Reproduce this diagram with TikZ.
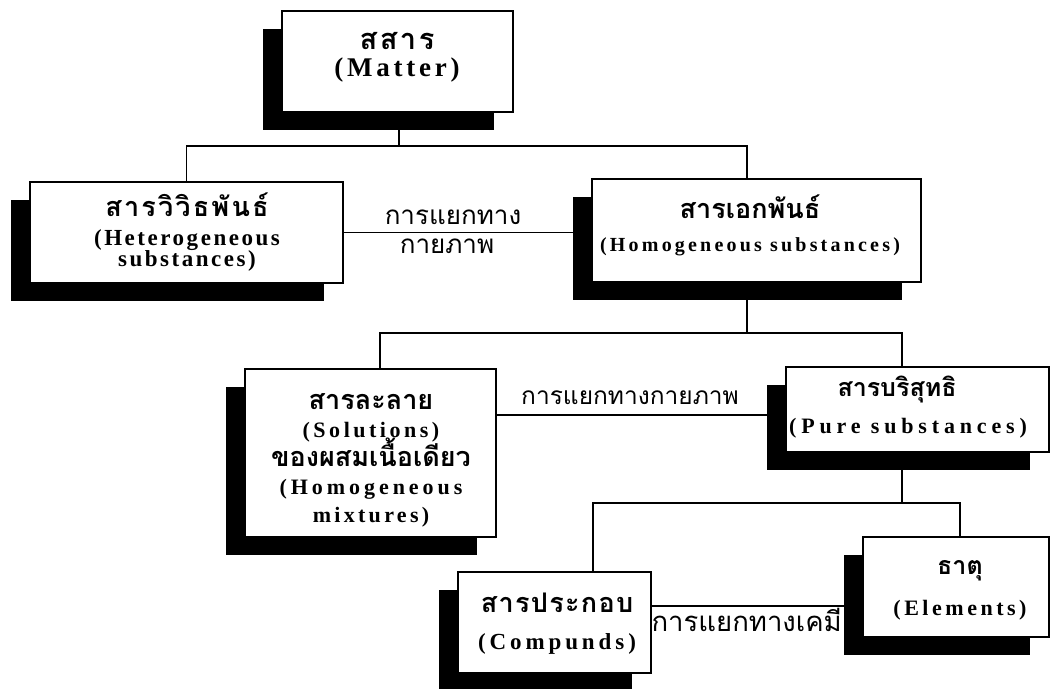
\documentclass[tikz,border=0pt]{standalone}
\usepackage{fontspec}
\setmainfont{Liberation Serif}
\newfontfamily\thaifnt[Script=Thai]{Loma}
\newfontfamily\enfnt{Liberation Serif}
\usetikzlibrary{shadows,calc}
\newcommand\myEN[3][24]{{\enfnt\bfseries\fontsize{#2}{#2}\selectfont\addfontfeatures{LetterSpace=#1}#3}}
\newcommand\myTH[2]{{\thaifnt\bfseries\fontsize{#1}{#1}\selectfont #2}}
\tikzset{
  box/.style={draw, line width=1.3pt, fill=white, inner sep=0pt,
    drop shadow={shadow xshift=-19pt, shadow yshift=-18pt, fill=black, opacity=1}},
  txt/.style={align=center, inner sep=0pt},
  conn/.style={line width=1.3pt},
  lbl/.style={inner sep=0pt, align=center}
}
\begin{document}
\begin{tikzpicture}[x=1pt,y=-1pt]
\lineskiplimit=-100pt
\useasboundingbox (0,0) rectangle (1051,688);
% boxes
\node[box, minimum width=231pt, minimum height=101pt] (matter) at (397.5,61.5) {};
\node[box, minimum width=313pt, minimum height=101pt] (hetero) at (186.5,232.5) {};
\node[box, minimum width=329pt, minimum height=103pt] (homo) at (756.5,230.5) {};
\node[box, minimum width=251pt, minimum height=168pt] (sol) at (370.5,453) {};
\node[box, minimum width=263pt, minimum height=85pt] (pure) at (917.5,409.5) {};
\node[box, minimum width=193pt, minimum height=101pt] (comp) at (554.5,622.5) {};
\node[box, minimum width=186pt, minimum height=100pt] (elem) at (956,587) {};
% box texts
\node[txt, font=\fontsize{20}{27}\selectfont] (matter-t) at (397,57)
  {\myTH{29}{ส\kern2.5ptส\kern2.5ptา\kern2.5ptร}\\\myEN[14]{27}{(Matter)}};
\node[txt, font=\fontsize{20}{21}\selectfont] (hetero-t) at (187,232)
  {\myTH{27}{ส\kern2.2ptา\kern2.2ptร\kern2.2ptวิ\kern2.2ptวิ\kern2.2ptธ\kern2.2ptพั\kern2.2ptน\kern2.2ptธ์}\\[8pt]\myEN[11]{23}{(Heterogeneous}\\\myEN[11]{23}{substances)}};
\node[txt, font=\fontsize{20}{33}\selectfont] (homo-t) at (750,225.5)
  {\myTH{27}{สารเอกพันธ์}\\\myEN[16]{20}{(Homogeneous substances)}};
\node[txt, font=\fontsize{20}{28.3}\selectfont] (sol-t) at (371,460.5)
  {\myTH{27}{สารละลาย}\\\myEN[16]{22}{(Solutions)}\\\myTH{27}{ของผสมเนื้อเดียว}\\\myEN[18]{22}{(Homogeneous}\\\myEN[15]{22}{mixtures)}};
\node[txt, font=\fontsize{20}{37}\selectfont] (pure-t) at (908,407)
  {\myTH{25}{สารบริสุทธิ\kern22pt}\\\myEN[22]{22}{(Pure substances)}};
\node[txt, font=\fontsize{20}{37}\selectfont] (comp-t) at (557,623.5)
  {\myTH{27}{ส\kern1.3ptา\kern1.3ptร\kern1.3ptป\kern1.3ptร\kern1.3ptะ\kern1.3ptก\kern1.3ptอ\kern1.3ptบ}\\\myEN[17]{23}{(Compunds)}};
\node[txt, font=\fontsize{20}{41}\selectfont] (elem-t) at (960,590.5)
  {\myTH{25}{ธาตุ}\\\myEN[16]{22}{(Elements)}};
% tree connectors
\coordinate (j1) at (399,146);
\coordinate (j2) at (747,333);
\coordinate (j3) at (902,503);
\draw[conn] (matter.south -| j1) -- (j1);
\draw[conn] (hetero.north) |- (j1) -| ([xshift=-9.5pt]homo.north);
\draw[conn] (homo.south -| j2) -- (j2);
\draw[conn] ([xshift=9.5pt]sol.north) |- (j2) -| ([xshift=-15.5pt]pure.north);
\draw[conn] (pure.south -| j3) -- (j3);
\draw[conn] ([xshift=38.5pt]comp.north) |- (j3) -| ([xshift=4pt]elem.north);
% separation connectors
\coordinate (p1) at ([yshift=-5.5pt]pure.west);
\coordinate (e1) at ([yshift=-19pt]elem.west);
\draw[conn] (hetero.east) -- (hetero.east -| homo.west);
\draw[conn] (p1 -| sol.east) -- (p1);
\draw[conn] (e1 -| comp.east) -- (e1);
% labels
\node[lbl, font=\thaifnt\fontsize{26}{29}\selectfont] (l1) at (453,232) {การแยกทาง\\กายภาพ\kern12pt};
\node[lbl, font=\thaifnt\fontsize{24.5}{29}\selectfont, anchor=south] (l2) at (630,405) {การแยกทางกายภาพ};
\node[lbl, font=\thaifnt\fontsize{27.5}{29}\selectfont, anchor=north east] (l3) at (842,608) {การแยกทางเคมี};
\end{tikzpicture}
\end{document}
